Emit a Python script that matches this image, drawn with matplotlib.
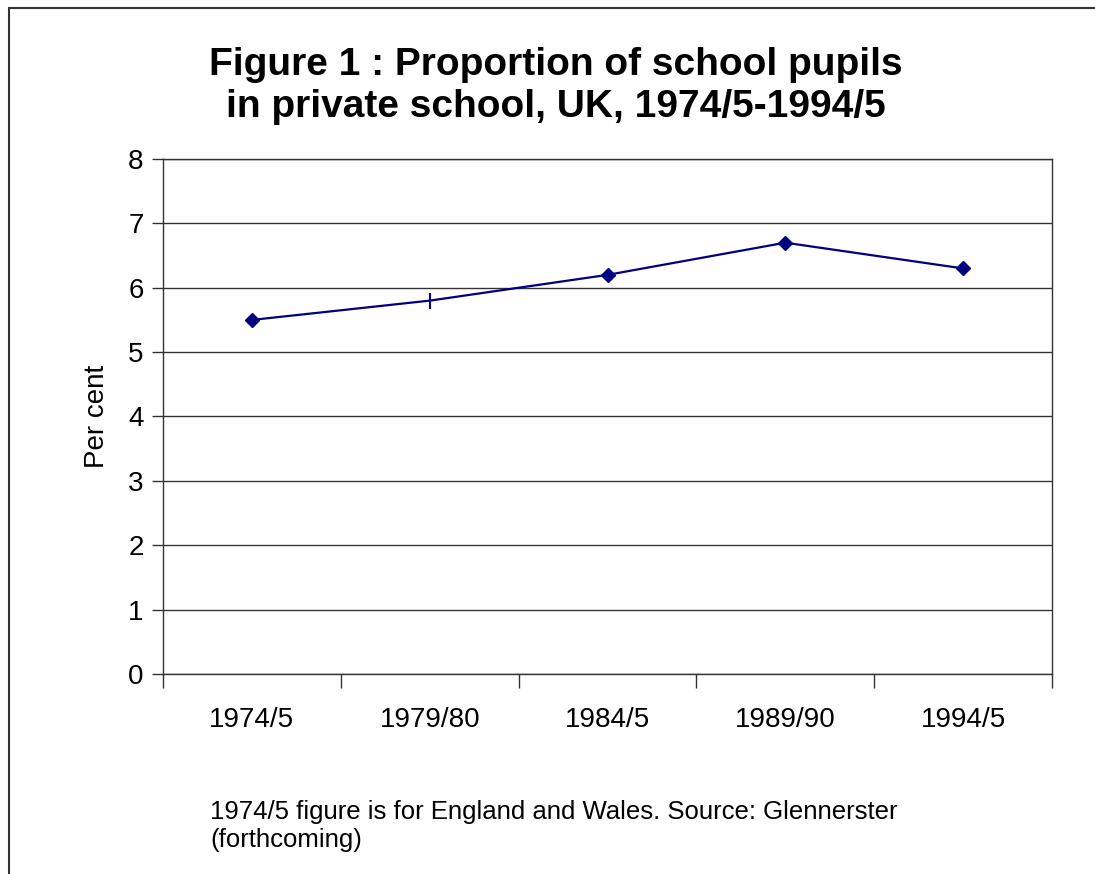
import matplotlib
matplotlib.use("Agg")
import matplotlib.pyplot as plt
from matplotlib.patches import Rectangle

plt.rcParams["font.family"] = ["Liberation Sans", "DejaVu Sans"]

years = ["1974/5", "1979/80", "1984/5", "1989/90", "1994/5"]
share = [5.5, 5.8, 6.2, 6.7, 6.3]
yticks = [0, 1, 2, 3, 4, 5, 6, 7, 8]

navy = "#000080"

fig = plt.figure(figsize=(10.95, 8.74), dpi=100)
ax = fig.add_axes([163 / 1095, 1 - 674 / 874, 889 / 1095, 515 / 874])

x = list(range(len(years)))
ax.plot(x, share, color=navy, lw=1.6, zorder=3)
# the second point uses a bar marker, the rest are diamonds
for i, (xi, yi) in enumerate(zip(x, share)):
    if i == 1:
        ax.plot(xi, yi, marker="|", ms=12, mew=1.5, color=navy, zorder=4)
    else:
        ax.plot(xi, yi, marker="D", ms=7, color=navy, zorder=4)

ax.set_xlim(-0.5, len(years) - 0.5)
ax.set_ylim(0, 8)
ax.set_yticks(yticks)
ax.set_yticklabels([str(t) for t in yticks], fontsize=20)
ax.set_xticks([i - 0.5 for i in range(len(years) + 1)])
ax.set_xticklabels([])
ax.set_xticks(x, minor=True)
ax.set_xticklabels(years, minor=True, fontsize=20)
ax.tick_params(axis="x", which="minor", length=0, pad=24)
ax.tick_params(axis="x", which="major", length=10, width=1, color="#333333")
ax.tick_params(axis="y", length=8, width=1, color="#333333", pad=6)

ax.yaxis.grid(True, color="#333333", lw=1)
ax.set_axisbelow(True)
for s in ax.spines.values():
    s.set_color("#333333")
    s.set_linewidth(1)

ax.set_ylabel("Per cent", fontsize=20, labelpad=13)

fig.text(556 / 1095, 1 - 86 / 874,
         "Figure 1 : Proportion of school pupils\nin private school, UK, 1974/5-1994/5",
         ha="center", va="center", fontsize=28, fontweight="bold", linespacing=1.2)

fig.text(210 / 1095, 1 - 826 / 874,
         "1974/5 figure is for England and Wales. Source: Glennerster\n(forthcoming)",
         ha="left", va="center", fontsize=18.5, linespacing=1.2)

# chart border running off the right and bottom edges
fig.patches.append(Rectangle((8.5 / 1095, -0.1), 1.2, 1 - 8 / 874 + 0.1,
                             transform=fig.transFigure, fill=False,
                             edgecolor="#333333", lw=1.5))

fig.savefig("out.png", dpi=100)
